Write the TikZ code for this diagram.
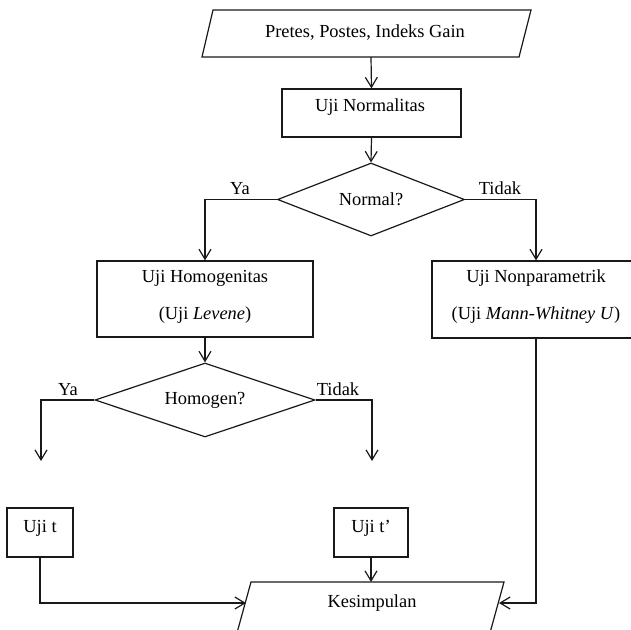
\documentclass[tikz,border=0pt]{standalone}
\usepackage{fontspec}
\setmainfont{Liberation Serif}
\usetikzlibrary{arrows.meta,shapes.geometric}
\begin{document}
\begin{tikzpicture}[x=1pt,y=-1pt,
  every node/.style={font=\fontsize{18.4}{22}\selectfont},
  line/.style={line width=1.2pt,draw=black!90},
  arr/.style={line, -{Straight Barb[length=10pt,width=12pt,line width=1.2pt]}},
  box/.style={line, rectangle, inner sep=0pt},
  dec/.style={line, diamond, aspect=3, inner sep=0pt},
  txt/.style={inner sep=0pt}]
\useasboundingbox (0,0) rectangle (631,629);
\clip (0,0) rectangle (631,629);

% input parallelogram
\coordinate (inTL) at (213,10);
\coordinate (inTR) at (531,10);
\coordinate (inBR) at (519,57);
\coordinate (inBL) at (202,57);
\draw[line] (inTL) -- (inTR) -- (inBR) -- (inBL) -- cycle;
\node[txt] (tIn) at (365,33) {Pretes, Postes, Indeks Gain};
\coordinate (inOut) at (371,57);

% Uji Normalitas
\node[box, minimum width=179pt, minimum height=48pt] (bNorm) at (371.5,113) {};
\node[txt] (tNorm) at (370,107) {Uji Normalitas};

% Normal?
\node[dec, minimum width=187pt, minimum height=73pt] (dNorm) at (371,199.5) {Normal?};

% Uji Homogenitas
\node[box, minimum width=216pt, minimum height=76pt] (bHom) at (205,299) {};
\node[txt] (tHom1) at (205,278) {Uji Homogenitas};
\node[txt] (tHom2) at (205,315) {(Uji \textit{Levene})};

% Uji Nonparametrik
\node[box, minimum width=208pt, minimum height=77pt] (bNon) at (536,299.5) {};
\node[txt] (tNon1) at (536,278) {Uji Nonparametrik};
\node[txt] (tNon2) at (536,315) {(Uji \textit{Mann-Whitney U})};

% Homogen?
\node[dec, minimum width=220pt, minimum height=74pt] (dHom) at (205,400) {Homogen?};

% Uji t, Uji t'
\node[box, minimum width=66pt, minimum height=49pt] (bT) at (40,532.5) {};
\node[txt] (tT) at (40,528) {Uji t};
\node[box, minimum width=74pt, minimum height=49pt] (bT2) at (371,532.5) {};
\node[txt] (tT2) at (371,528) {Uji t’};

% Kesimpulan parallelogram
\coordinate (kTL) at (251,582);
\coordinate (kTR) at (504,582);
\coordinate (kBR) at (490.5,631);
\coordinate (kBL) at (237.5,631);
\draw[line] (kTL) -- (kTR) -- (kBR) -- (kBL) -- cycle;
\node[txt] (tK) at (372,603) {Kesimpulan};
\coordinate (kL) at (246,603);
\coordinate (kR) at (499,603);
\coordinate (kTop) at (371,582);

% labels
\node[txt] (lYa1) at (240,189) {Ya};
\node[txt] (lTi1) at (500,188) {Tidak};
\node[txt] (lYa2) at (68,390) {Ya};
\node[txt] (lTi2) at (338,389) {Tidak};

% free arrow ends
\coordinate (eYa) at (41,461);
\coordinate (eTi) at (372,461);

% connectors
\draw[arr] (inOut) -- (bNorm.north);
\draw[arr] (bNorm.south) -- (dNorm.north);
\draw[arr] (dNorm.west) -| (bHom.north);
\draw[arr] (dNorm.east) -| (bNon.north);
\draw[arr] (bHom.south) -- (dHom.north);
\draw[arr] (dHom.west) -| (eYa);
\draw[arr] (dHom.east) -| (eTi);
\draw[arr] (bT.south) |- (kL);
\draw[arr] (bT2.south) -- (kTop);
\draw[arr] (bNon.south) |- (kR);
\end{tikzpicture}
\end{document}
